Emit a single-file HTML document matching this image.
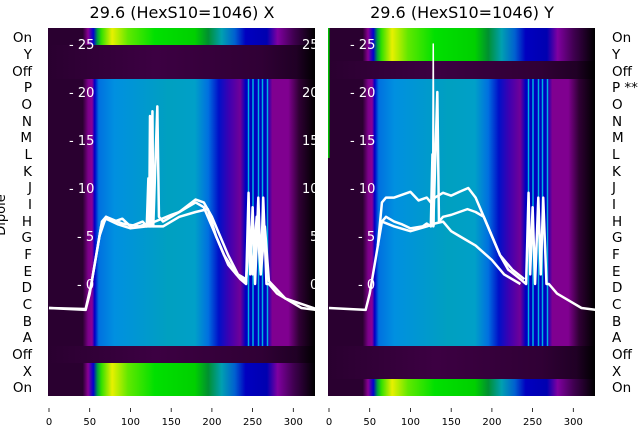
<!DOCTYPE html>
<html><head><meta charset="utf-8"><style>
html,body{margin:0;padding:0;background:#fff;}
svg{display:block;font-family:"DejaVu Sans","Liberation Sans",sans-serif;}
</style></head><body>
<svg width="640" height="440" viewBox="0 0 640 440" xmlns="http://www.w3.org/2000/svg">
<defs>
<linearGradient id="gb" x1="0" x2="1" y1="0" y2="0">
<stop offset="0" stop-color="#2a0030"/><stop offset="0.13" stop-color="#2a0030"/>
<stop offset="0.15" stop-color="#7a0088"/><stop offset="0.165" stop-color="#8a0095"/>
<stop offset="0.175" stop-color="#0000c8"/><stop offset="0.19" stop-color="#0070e0"/>
<stop offset="0.25" stop-color="#0090e0"/><stop offset="0.45" stop-color="#00a0c0"/>
<stop offset="0.55" stop-color="#00a0c8"/><stop offset="0.6" stop-color="#0070e0"/>
<stop offset="0.64" stop-color="#0010c8"/><stop offset="0.68" stop-color="#4000b0"/>
<stop offset="0.72" stop-color="#700098"/><stop offset="0.74" stop-color="#0000c0"/>
<stop offset="0.82" stop-color="#0000c0"/><stop offset="0.84" stop-color="#800090"/>
<stop offset="0.9" stop-color="#800090"/><stop offset="0.94" stop-color="#300035"/>
<stop offset="1" stop-color="#000000"/>
</linearGradient>
<linearGradient id="gy" x1="0" x2="1" y1="0" y2="0">
<stop offset="0" stop-color="#2a0030"/><stop offset="0.13" stop-color="#2a0030"/>
<stop offset="0.15" stop-color="#8a0095"/><stop offset="0.17" stop-color="#0000d0"/>
<stop offset="0.185" stop-color="#00a040"/><stop offset="0.2" stop-color="#30e000"/>
<stop offset="0.24" stop-color="#e8f000"/><stop offset="0.3" stop-color="#60e800"/>
<stop offset="0.4" stop-color="#00e000"/><stop offset="0.55" stop-color="#00d000"/>
<stop offset="0.6" stop-color="#009030"/><stop offset="0.65" stop-color="#00a0b0"/>
<stop offset="0.7" stop-color="#0060d0"/><stop offset="0.74" stop-color="#0000c0"/>
<stop offset="0.82" stop-color="#0000b0"/><stop offset="0.86" stop-color="#8000a0"/>
<stop offset="0.92" stop-color="#400050"/><stop offset="1" stop-color="#000000"/>
</linearGradient>
<linearGradient id="gd" x1="0" x2="1" y1="0" y2="0">
<stop offset="0" stop-color="#2a0030"/><stop offset="0.4" stop-color="#3c0042"/>
<stop offset="0.8" stop-color="#300035"/><stop offset="0.93" stop-color="#200025"/>
<stop offset="1" stop-color="#000000"/>
</linearGradient>
<g id="stripes" stroke="#00b0e0" stroke-width="1.5">
<line x1="200.5" y1="0" x2="200.5" y2="267"/><line x1="205" y1="0" x2="205" y2="267"/>
<line x1="210.5" y1="0" x2="210.5" y2="267"/><line x1="214.5" y1="0" x2="214.5" y2="267"/>
<line x1="219.5" y1="0" x2="219.5" y2="267"/>
</g>
</defs>

<text x="182" y="18" font-size="16" text-anchor="middle">29.6 (HexS10=1046) X</text>
<text x="462" y="18" font-size="16" text-anchor="middle">29.6 (HexS10=1046) Y</text>

<g transform="translate(48,28)">
<rect x="0" y="0" width="267" height="17" fill="url(#gy)"/>
<rect x="0" y="17" width="267" height="34" fill="url(#gd)"/>
<rect x="0" y="51" width="267" height="267" fill="url(#gb)"/>
<rect x="0" y="318" width="267" height="17" fill="url(#gd)"/>
<rect x="0" y="335" width="267" height="33" fill="url(#gy)"/>
<g transform="translate(0,51)"><use href="#stripes"/></g>
</g>
<g transform="translate(328,28)">
<rect x="0" y="0" width="267" height="33" fill="url(#gy)"/>
<rect x="0" y="33" width="267" height="18" fill="url(#gd)"/>
<rect x="0" y="51" width="267" height="267" fill="url(#gb)"/>
<rect x="0" y="318" width="267" height="33" fill="url(#gd)"/>
<rect x="0" y="351" width="267" height="17" fill="url(#gy)"/>
<g transform="translate(0,51)"><use href="#stripes"/></g>
<rect x="0" y="0" width="1.5" height="130" fill="#00c000"/>
</g>

<g transform="translate(49,284) scale(0.8145,-9.6)" fill="none" stroke="#fff" stroke-width="2.5" stroke-linejoin="round">
<polyline vector-effect="non-scaling-stroke" points="0,-2.5 45,-2.7 50,-1 55,1.5 60,4 65,6.5 70,7 80,6.5 90,6.8 100,6 115,6.5 120,6 122,11 123,6 124,17.5 125,6 127,18 128,6 133,18.5 135,7 140,6.5 150,7 160,7.5 170,8 180,8.5 190,8 200,6 210,4 220,2 235,0.5 242,0 245,9.5 247,1 250,8 253,0 257,9 260,1 263,9 267,0 270,0 280,-1 300,-2 310,-2.5 328,-2.7"/>
<polyline vector-effect="non-scaling-stroke" points="0,-2.5 45,-2.6 52,0 58,3 64,6 70,6.8 85,6.2 100,5.8 120,6 140,6 160,7 180,7.5 195,7.8 205,5 215,3 230,1 242,0.3 246,6 250,1 255,7 260,1 265,6 270,0.3 290,-1.5 328,-2.6"/>
<polyline vector-effect="non-scaling-stroke" points="62,5 70,7 90,6.3 110,6 130,6.5 150,7.2 160,7.5 180,8.8 190,8.5 200,7 210,5 220,3 232,1 242,0.5"/>
</g>
<g transform="translate(329,284) scale(0.8145,-9.6)" fill="none" stroke="#fff" stroke-width="2.5" stroke-linejoin="round">
<polyline vector-effect="non-scaling-stroke" points="0,-2.5 45,-2.7 50,-1 55,1.5 60,4 65,6.5 70,7 80,6.5 90,6.2 100,5.8 115,6 120,6.3 125,6 127,13.5 128,6 133,20 135,6.5 140,7 150,7.2 160,7.5 170,7.8 180,7.5 190,7 200,5 210,3 220,1.5 235,0.5 242,0 245,9.5 247,1 250,8 253,0 257,9 260,1 263,9 267,0 270,0 280,-1 300,-2 310,-2.5 328,-2.7"/>
<polyline vector-effect="non-scaling-stroke" points="60,4 65,8.5 70,9 80,9 90,9.3 100,9.6 110,8.7 120,9 125,8.5 130,9 140,9.5 150,9.2 160,9.6 171,10 180,9 190,7 200,5 210,3 225,1.5 240,0.5"/>
<polyline vector-effect="non-scaling-stroke" stroke-width="1.5" points="127,6 128,25 129,6"/>
<polyline vector-effect="non-scaling-stroke" points="65,6.5 80,6 100,5.5 120,6 130,6.3 140,6.5 150,5.5 160,5 180,4 200,2.5 215,1 235,0"/>
</g>

<g fill="#fff" font-size="13">
<text x="69" y="49">- 25</text><text x="69" y="97">- 20</text><text x="69" y="145">- 15</text>
<text x="69" y="193">- 10</text><text x="77" y="241">- 5</text><text x="77" y="289">- 0</text>
<text x="302" y="49">25</text><text x="302" y="97">20</text><text x="302" y="145">15</text>
<text x="302" y="193">10</text><text x="310" y="241">5</text><text x="310" y="289">0</text>
<text x="350" y="49">- 25</text><text x="350" y="97">- 20</text><text x="350" y="145">- 15</text>
<text x="350" y="193">- 10</text><text x="358" y="241">- 5</text><text x="358" y="289">- 0</text>
</g>
<rect x="315" y="28" width="13" height="368" fill="#fff"/>

<g font-size="13.5" text-anchor="end">
<text x="32" y="42">On</text><text x="32" y="59">Y</text><text x="32" y="76">Off</text>
<text x="32" y="92">P</text><text x="32" y="109">O</text><text x="32" y="126">N</text>
<text x="32" y="142">M</text><text x="32" y="159">L</text><text x="32" y="176">K</text>
<text x="32" y="192">J</text><text x="32" y="209">I</text><text x="32" y="226">H</text>
<text x="32" y="242">G</text><text x="32" y="259">F</text><text x="32" y="276">E</text>
<text x="32" y="292">D</text><text x="32" y="309">C</text><text x="32" y="326">B</text>
<text x="32" y="342">A</text><text x="32" y="359">Off</text><text x="32" y="376">X</text>
<text x="32" y="392">On</text>
</g>
<text transform="translate(5,215) rotate(-90)" font-size="13" text-anchor="middle">Dipole</text>
<g font-size="13.5">
<text x="612" y="42">On</text><text x="612" y="59">Y</text><text x="612" y="76">Off</text>
<text x="612" y="92">P **</text><text x="612" y="109">O</text><text x="612" y="126">N</text>
<text x="612" y="142">M</text><text x="612" y="159">L</text><text x="612" y="176">K</text>
<text x="612" y="192">J</text><text x="612" y="209">I</text><text x="612" y="226">H</text>
<text x="612" y="242">G</text><text x="612" y="259">F</text><text x="612" y="276">E</text>
<text x="612" y="292">D</text><text x="612" y="309">C</text><text x="612" y="326">B</text>
<text x="612" y="342">A</text><text x="612" y="359">Off</text><text x="612" y="376">X</text>
<text x="612" y="392">On</text>
</g>

<g stroke="#000" stroke-width="0.8">
<line x1="49" y1="408" x2="49" y2="412"/><line x1="89.7" y1="408" x2="89.7" y2="412"/>
<line x1="130.4" y1="408" x2="130.4" y2="412"/><line x1="171.2" y1="408" x2="171.2" y2="412"/>
<line x1="211.9" y1="408" x2="211.9" y2="412"/><line x1="252.6" y1="408" x2="252.6" y2="412"/>
<line x1="293.3" y1="408" x2="293.3" y2="412"/>
<line x1="329" y1="408" x2="329" y2="412"/><line x1="369.7" y1="408" x2="369.7" y2="412"/>
<line x1="410.4" y1="408" x2="410.4" y2="412"/><line x1="451.2" y1="408" x2="451.2" y2="412"/>
<line x1="491.9" y1="408" x2="491.9" y2="412"/><line x1="532.6" y1="408" x2="532.6" y2="412"/>
<line x1="573.3" y1="408" x2="573.3" y2="412"/>
</g>
<g font-size="10" text-anchor="middle">
<text x="49" y="425">0</text><text x="89.7" y="425">50</text><text x="130.4" y="425">100</text>
<text x="171.2" y="425">150</text><text x="211.9" y="425">200</text><text x="252.6" y="425">250</text>
<text x="293.3" y="425">300</text>
<text x="329" y="425">0</text><text x="369.7" y="425">50</text><text x="410.4" y="425">100</text>
<text x="451.2" y="425">150</text><text x="491.9" y="425">200</text><text x="532.6" y="425">250</text>
<text x="573.3" y="425">300</text>
</g>
</svg>
</body></html>
